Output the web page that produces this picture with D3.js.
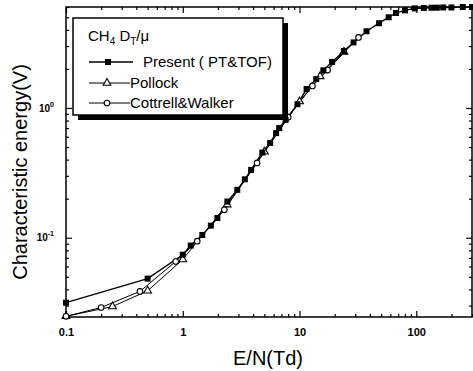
<!DOCTYPE html>
<html>
<head>
<script src="https://d3js.org/d3.v7.min.js"></script>
<style>
  body { margin: 0; background: #fff; }
  svg { display: block; font-family: Arial, "Liberation Sans", sans-serif; }
</style>
</head>
<body>
<svg width="473" height="371"></svg>
<script>
// E/N (Td) and characteristic energy (V)
const presentE = [0.1, 0.5, 1.0, 1.17, 1.47, 1.74, 1.98, 2.41, 2.93, 3.4, 3.85, 4.8, 5.6, 6.3, 6.7, 7.6, 9.6,
                  11.5, 13.9, 16, 19, 24, 29, 37.5, 48, 58, 67, 80, 97, 116, 135, 150, 170, 200, 250, 300];
const presentV = [0.0316, 0.0484, 0.074, 0.087, 0.105, 0.124, 0.142, 0.19, 0.234, 0.282, 0.333, 0.453, 0.538, 0.64, 0.70, 0.81, 1.07,
                  1.4, 1.67, 1.95, 2.26, 2.75, 3.2, 3.9, 4.5, 5.0, 5.4, 5.65, 5.85, 5.9, 5.92, 5.93, 5.95, 5.95, 6.0, 6.0];
const pollockE = [0.1, 0.25, 0.5, 1.0, 2.4, 5, 10, 15, 24];
const pollockV = [0.0248, 0.0295, 0.039, 0.068, 0.18, 0.46, 1.12, 1.75, 2.7];
const cottrellE = [0.1, 0.2, 0.43, 0.87, 1.33, 2.27, 4.33, 8, 12.9, 17.4, 32];
const cottrellV = [0.0248, 0.029, 0.0386, 0.0656, 0.094, 0.164, 0.377, 0.85, 1.48, 1.96, 3.5];

const xMajor = [0.1, 1, 10, 100];
const xLabels = ["0.1", "1", "10", "100"];
const yMajor = [0.1, 1];
const yExp = ["-1", "0"];

const plotLeft = 66, plotRight = 472, plotTop = 7, plotBottom = 317;

const svg = d3.select("svg");

const x = d3.scaleLog().domain([0.1, 300]).range([plotLeft, plotRight]);
const y = d3.scaleLog().domain([0.0245, 6]).range([plotBottom, plotTop]);

// minor tick values
const xMinor = [];
[0.1, 1, 10, 100].forEach(function(d) {
  for (let k = 2; k <= 9; k++) if (d * k <= 300) xMinor.push(d * k);
});
const yMinor = [];
[0.01, 0.1, 1].forEach(function(d) {
  for (let k = 2; k <= 9; k++) if (d * k >= 0.0245 && d * k <= 6) yMinor.push(d * k);
});

// frame
svg.append("rect")
  .attr("x", plotLeft).attr("y", plotTop)
  .attr("width", plotRight - plotLeft).attr("height", plotBottom - plotTop)
  .attr("fill", "none").attr("stroke", "#000").attr("stroke-width", 1.5);

function styleAxis(g) {
  g.select(".domain").remove();
  g.selectAll("line").attr("stroke", "#000").attr("stroke-width", 1.2);
}

// bottom axis
svg.append("g").attr("transform", "translate(0," + plotBottom + ")")
  .call(d3.axisBottom(x).tickValues(xMajor).tickSize(-6).tickPadding(11)
    .tickFormat(function(d, i) { return xLabels[i]; }))
  .call(styleAxis)
  .selectAll("text").attr("font-size", 11).attr("font-weight", "bold").attr("fill", "#000");
svg.append("g").attr("transform", "translate(0," + plotBottom + ")")
  .call(d3.axisBottom(x).tickValues(xMinor).tickSize(-3).tickFormat(""))
  .call(styleAxis);

// top axis
svg.append("g").attr("transform", "translate(0," + plotTop + ")")
  .call(d3.axisTop(x).tickValues(xMajor).tickSize(-6).tickFormat(""))
  .call(styleAxis);
svg.append("g").attr("transform", "translate(0," + plotTop + ")")
  .call(d3.axisTop(x).tickValues(xMinor).tickSize(-3).tickFormat(""))
  .call(styleAxis);

// left axis
const yAxisG = svg.append("g").attr("transform", "translate(" + plotLeft + ",0)")
  .call(d3.axisLeft(y).tickValues(yMajor).tickSize(-6).tickPadding(12).tickFormat(""))
  .call(styleAxis);
yAxisG.selectAll(".tick text").each(function(d, i) {
  const t = d3.select(this).attr("font-size", 10).attr("font-weight", "bold").attr("fill", "#000");
  t.append("tspan").text("10");
  t.append("tspan").attr("font-size", 7).attr("dy", -5).text(yExp[i]);
});
svg.append("g").attr("transform", "translate(" + plotLeft + ",0)")
  .call(d3.axisLeft(y).tickValues(yMinor).tickSize(-3).tickFormat(""))
  .call(styleAxis);

// right axis
svg.append("g").attr("transform", "translate(" + plotRight + ",0)")
  .call(d3.axisRight(y).tickValues(yMajor).tickSize(-6).tickFormat(""))
  .call(styleAxis);
svg.append("g").attr("transform", "translate(" + plotRight + ",0)")
  .call(d3.axisRight(y).tickValues(yMinor).tickSize(-3).tickFormat(""))
  .call(styleAxis);

// axis titles
svg.append("text")
  .attr("x", 268).attr("y", 365)
  .attr("text-anchor", "middle").attr("font-size", 20)
  .text("E/N(Td)");
svg.append("text")
  .attr("transform", "translate(27,172) rotate(-90)")
  .attr("text-anchor", "middle").attr("font-size", 20)
  .text("Characteristic energy(V)");

// series
const line = d3.line().x(function(d) { return x(d[0]); }).y(function(d) { return y(d[1]); });
const present = d3.zip(presentE, presentV);
const pollock = d3.zip(pollockE, pollockV);
const cottrell = d3.zip(cottrellE, cottrellV);

svg.append("path").datum(cottrell).attr("d", line)
  .attr("fill", "none").attr("stroke", "#000").attr("stroke-width", 1);
svg.append("path").datum(pollock).attr("d", line)
  .attr("fill", "none").attr("stroke", "#000").attr("stroke-width", 1);
svg.append("path").datum(present).attr("d", line)
  .attr("fill", "none").attr("stroke", "#000").attr("stroke-width", 1.4);

const tri = d3.symbol().type(d3.symbolTriangle).size(26);

svg.selectAll(".tri").data(pollock).enter().append("path")
  .attr("class", "tri")
  .attr("transform", function(d) { return "translate(" + x(d[0]) + "," + y(d[1]) + ")"; })
  .attr("d", tri).attr("fill", "#fff").attr("stroke", "#000").attr("stroke-width", 1.1);

svg.selectAll(".circ").data(cottrell).enter().append("circle")
  .attr("class", "circ")
  .attr("cx", function(d) { return x(d[0]); })
  .attr("cy", function(d) { return y(d[1]); })
  .attr("r", 2.8).attr("fill", "#fff").attr("stroke", "#000").attr("stroke-width", 1.1);

svg.selectAll(".sq").data(present).enter().append("rect")
  .attr("class", "sq")
  .attr("x", function(d) { return x(d[0]) - 3; })
  .attr("y", function(d) { return y(d[1]) - 3; })
  .attr("width", 6).attr("height", 6).attr("fill", "#000");

// legend
const lg = svg.append("g");
lg.append("rect").attr("x", 78).attr("y", 23).attr("width", 210).attr("height", 97).attr("fill", "#000");
lg.append("rect").attr("x", 73).attr("y", 18).attr("width", 210).attr("height", 97)
  .attr("fill", "#fff").attr("stroke", "#000").attr("stroke-width", 1.5);

const title = lg.append("text").attr("x", 88).attr("y", 41).attr("font-size", 15);
title.append("tspan").text("CH");
title.append("tspan").attr("font-size", 10).attr("dy", 4).text("4");
title.append("tspan").attr("dy", -4).text(" D");
title.append("tspan").attr("font-size", 10).attr("dy", 4).text("T");
title.append("tspan").attr("dy", -4).text("/\u03bc");

const legendRows = [
  { label: "Present ( PT&TOF)", y: 62, x2: 133, tx: 143, w: 1.4 },
  { label: "Pollock", y: 83, x2: 130, tx: 130, w: 1 },
  { label: "Cottrell&Walker", y: 103, x2: 130, tx: 130, w: 1 }
];
legendRows.forEach(function(r, i) {
  lg.append("line").attr("x1", 89).attr("x2", r.x2).attr("y1", r.y).attr("y2", r.y)
    .attr("stroke", "#000").attr("stroke-width", r.w);
  if (i === 0) {
    lg.append("rect").attr("x", 105).attr("y", r.y - 3).attr("width", 6).attr("height", 6).attr("fill", "#000");
  } else if (i === 1) {
    lg.append("path").attr("transform", "translate(107," + r.y + ")").attr("d", tri)
      .attr("fill", "#fff").attr("stroke", "#000").attr("stroke-width", 1.1);
  } else {
    lg.append("circle").attr("cx", 107).attr("cy", r.y).attr("r", 2.8)
      .attr("fill", "#fff").attr("stroke", "#000").attr("stroke-width", 1.1);
  }
  lg.append("text").attr("x", r.tx).attr("y", r.y).attr("dy", "0.36em")
    .attr("font-size", 15).text(r.label);
});
</script>
</body>
</html>
